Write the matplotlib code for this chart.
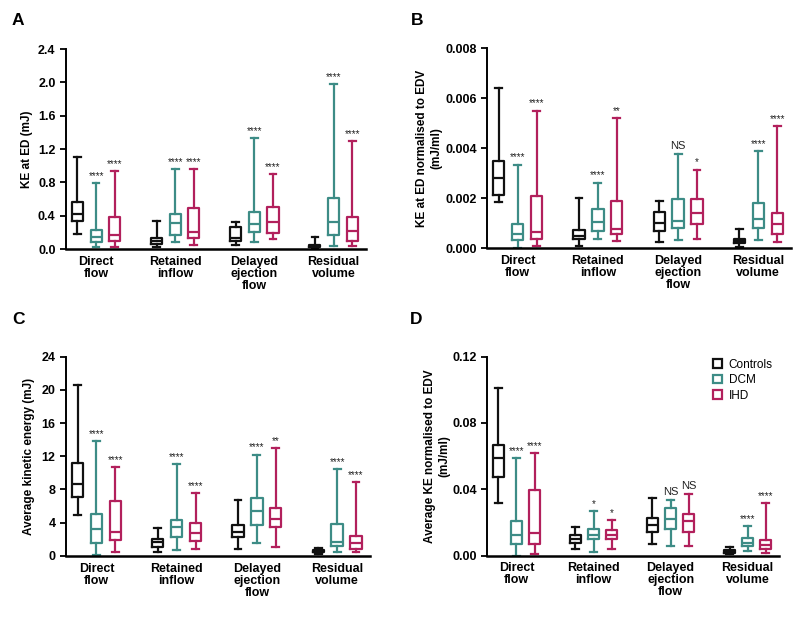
import matplotlib
matplotlib.use("Agg")
import matplotlib.pyplot as plt
from matplotlib.patches import Patch
from matplotlib.ticker import FormatStrFormatter
import numpy as np

plt.rcParams['font.family'] = ['Liberation Sans', 'DejaVu Sans']

categories = ["Direct\nflow", "Retained\ninflow", "Delayed\nejection\nflow", "Residual\nvolume"]
groups = ["Controls", "DCM", "IHD"]
colors = ["#111111", "#3d8c86", "#b2205c"]

# box stats per category: (whisker low, Q1, median, Q3, whisker high)
# A - KE at ED (mJ)
ke_ed_controls = [(0.18, 0.34, 0.42, 0.56, 1.11), (0.03, 0.06, 0.10, 0.13, 0.34),
                  (0.05, 0.10, 0.13, 0.26, 0.32), (0.01, 0.02, 0.04, 0.05, 0.15)]
ke_ed_dcm = [(0.02, 0.09, 0.14, 0.23, 0.79), (0.08, 0.17, 0.31, 0.42, 0.96),
             (0.09, 0.20, 0.30, 0.44, 1.33), (0.04, 0.17, 0.32, 0.61, 1.98)]
ke_ed_ihd = [(0.02, 0.10, 0.17, 0.38, 0.94), (0.05, 0.13, 0.20, 0.49, 0.96),
             (0.12, 0.19, 0.32, 0.50, 0.90), (0.04, 0.10, 0.22, 0.39, 1.30)]
ke_ed_sig_dcm = ["****", "****", "****", "****"]
ke_ed_sig_ihd = ["****", "****", "****", "****"]

# B - KE at ED normalised to EDV (mJ/ml)
ke_ed_norm_controls = [(0.00184, 0.00213, 0.00282, 0.00348, 0.0064), (0.0001, 0.00036, 0.0005, 0.00074, 0.0020),
                       (0.00023, 0.00067, 0.00099, 0.00146, 0.00188), (0.00005, 0.0002, 0.00028, 0.00036, 0.00077)]
ke_ed_norm_dcm = [(0.0, 0.00032, 0.00056, 0.00098, 0.00334), (0.00036, 0.00068, 0.00106, 0.00157, 0.00262),
                  (0.00032, 0.00079, 0.0011, 0.00197, 0.00376), (0.00032, 0.00079, 0.00117, 0.0018, 0.00388)]
ke_ed_norm_ihd = [(0.00007, 0.00035, 0.00066, 0.00207, 0.0055), (0.0003, 0.00056, 0.00078, 0.00187, 0.0052),
                  (0.00036, 0.00098, 0.00142, 0.00197, 0.00314), (0.00023, 0.00055, 0.00098, 0.00142, 0.00488)]
ke_ed_norm_sig_dcm = ["****", "****", "NS", "****"]
ke_ed_norm_sig_ihd = ["****", "**", "*", "****"]

# C - Average kinetic energy (mJ)
avg_ke_controls = [(4.9, 7.1, 8.6, 11.2, 20.6), (0.5, 1.1, 1.6, 2.0, 3.3),
                   (0.8, 2.2, 2.9, 3.7, 6.7), (0.2, 0.4, 0.5, 0.7, 0.9)]
avg_ke_dcm = [(0.1, 1.5, 3.2, 5.0, 13.8), (0.7, 2.3, 3.4, 4.3, 11.0),
              (1.5, 3.7, 5.4, 6.9, 12.2), (0.4, 1.2, 1.6, 3.8, 10.4)]
avg_ke_ihd = [(0.4, 1.9, 2.8, 6.6, 10.7), (0.8, 1.8, 2.7, 3.9, 7.5),
              (1.0, 3.4, 4.4, 5.8, 13.0), (0.4, 0.8, 1.5, 2.4, 8.9)]
avg_ke_sig_dcm = ["****", "****", "****", "****"]
avg_ke_sig_ihd = ["****", "****", "**", "****"]

# D - Average KE normalised to EDV (mJ/ml)
avg_ke_norm_controls = [(0.0318, 0.0474, 0.0588, 0.0668, 0.101), (0.0042, 0.0078, 0.0102, 0.0122, 0.0174),
                        (0.0072, 0.0142, 0.0182, 0.0228, 0.035), (0.001, 0.0018, 0.0026, 0.0032, 0.0052)]
avg_ke_norm_dcm = [(0.0, 0.0068, 0.0122, 0.021, 0.059), (0.002, 0.0098, 0.0122, 0.0158, 0.0266),
                   (0.0058, 0.0158, 0.0218, 0.0288, 0.0336), (0.003, 0.006, 0.0078, 0.0104, 0.018)]
avg_ke_norm_ihd = [(0.0008, 0.0068, 0.0136, 0.0396, 0.0616), (0.0042, 0.0102, 0.0122, 0.0154, 0.0214),
                   (0.0058, 0.0144, 0.0208, 0.0252, 0.0372), (0.0018, 0.0042, 0.0062, 0.0092, 0.0316)]
avg_ke_norm_sig_dcm = ["****", "*", "NS", "****"]
avg_ke_norm_sig_ihd = ["****", "*", "NS", "****"]

offsets = [-0.235, 0.0, 0.235]


def draw_panel(ax, stats_groups, sig_groups, ymax, ystep, fmt, ylabel, label_x):
    x = np.arange(len(categories))
    for g, stats in enumerate(stats_groups):
        c = colors[g]
        pos = x + offsets[g]
        bstats = [dict(whislo=s[0], q1=s[1], med=s[2], q3=s[3], whishi=s[4], fliers=[]) for s in stats]
        lp = dict(color=c, linewidth=1.6)
        ax.bxp(bstats, positions=pos, widths=0.14, capwidths=0.085, showfliers=False,
               boxprops=lp, whiskerprops=lp, capprops=lp, medianprops=lp, manage_ticks=False)
        sigs = sig_groups[g]
        if sigs is None:
            continue
        for px, s, t in zip(pos, stats, sigs):
            if t == "NS":
                ax.annotate(t, (px, s[4]), xytext=(0, 2), textcoords='offset points',
                            ha='center', va='bottom', fontsize=8, color='#222222')
            else:
                ax.annotate(t, (px, s[4]), xytext=(0, 1.5), textcoords='offset points',
                            ha='center', va='bottom', fontsize=7, color='#222222')
    ax.set_xlim(-0.38, 3.41)
    ax.set_ylim(0, ymax)
    ax.set_yticks(np.arange(0, ymax + ystep / 2, ystep))
    ax.yaxis.set_major_formatter(FormatStrFormatter(fmt))
    ax.set_xticks(x)
    ax.set_xticklabels(categories, fontweight='bold', fontsize=9, linespacing=1.0)
    ax.tick_params(axis='x', length=0, pad=5)
    ax.tick_params(axis='y', length=4, width=1.3, labelsize=9, direction='out')
    for lab in ax.get_yticklabels():
        lab.set_fontweight('bold')
    for sp in ['top', 'right']:
        ax.spines[sp].set_visible(False)
    ax.spines['left'].set_linewidth(1.4)
    ax.spines['bottom'].set_linewidth(1.8)
    ax.set_ylabel(ylabel, fontweight='bold', fontsize=8.5)
    ax.yaxis.set_label_coords(label_x, 0.5)


fig = plt.figure(figsize=(8, 6.17), dpi=100)
axA = fig.add_axes([0.0825, 0.5964, 0.375, 0.324])
axB = fig.add_axes([0.609, 0.598, 0.38, 0.324])
axC = fig.add_axes([0.0825, 0.0994, 0.38, 0.3225])
axD = fig.add_axes([0.609, 0.0996, 0.365, 0.3225])

draw_panel(axA, [ke_ed_controls, ke_ed_dcm, ke_ed_ihd], [None, ke_ed_sig_dcm, ke_ed_sig_ihd],
           2.4, 0.4, '%.1f', "KE at ED (mJ)", -0.11)
draw_panel(axB, [ke_ed_norm_controls, ke_ed_norm_dcm, ke_ed_norm_ihd],
           [None, ke_ed_norm_sig_dcm, ke_ed_norm_sig_ihd],
           0.008, 0.002, '%.3f', "KE at ED normalised to EDV\n(mJ/ml)", -0.149)
draw_panel(axC, [avg_ke_controls, avg_ke_dcm, avg_ke_ihd], [None, avg_ke_sig_dcm, avg_ke_sig_ihd],
           24, 4, '%d', "Average kinetic energy (mJ)", -0.102)
draw_panel(axD, [avg_ke_norm_controls, avg_ke_norm_dcm, avg_ke_norm_ihd],
           [None, avg_ke_norm_sig_dcm, avg_ke_norm_sig_ihd],
           0.12, 0.04, '%.2f', "Average KE normalised to EDV\n(mJ/ml)", -0.127)

handles = [Patch(facecolor='white', edgecolor=c, linewidth=1.6, label=g) for g, c in zip(groups, colors)]
axD.legend(handles=handles, loc='upper left', bbox_to_anchor=(0.774, 0.99), frameon=False,
           fontsize=8.5, handlelength=0.75, handleheight=0.75, handletextpad=0.55,
           labelspacing=0.3, borderpad=0, borderaxespad=0)

for letter, px, py in [("A", 12, 25), ("B", 411, 25), ("C", 12, 324), ("D", 410, 324)]:
    fig.text(px / 800, 1 - py / 617, letter, fontsize=12.5, fontweight='bold', va='baseline', ha='left')

fig.savefig("out.png", dpi=100)
